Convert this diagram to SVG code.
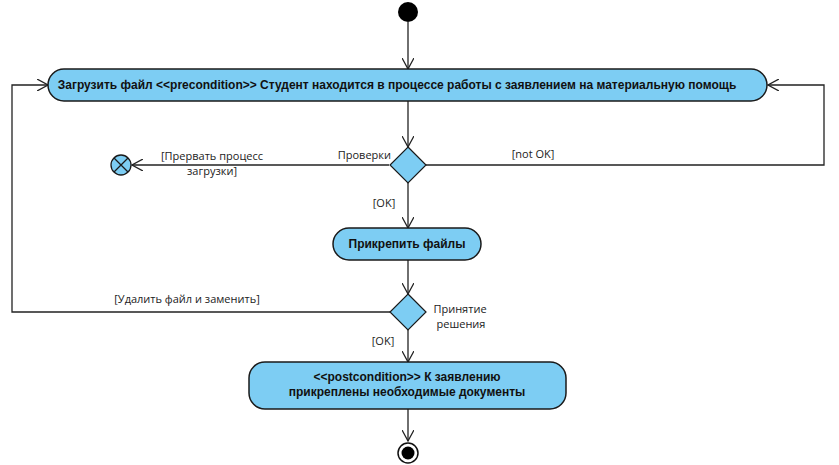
<svg xmlns="http://www.w3.org/2000/svg" width="839" height="465" viewBox="0 0 839 465">
  <style>
    .act { fill: #7dcdf3; stroke: #1a1a1a; stroke-width: 1.5; }
    .dec { fill: #7dcdf3; stroke: #1a1a1a; stroke-width: 1.2; }
    .lbl { font-family: "Liberation Sans", Arial, sans-serif; font-size: 12px; font-weight: bold; fill: #111; }
    .grd { font-family: "Open Sans", "Noto Sans", sans-serif; font-size: 11px; fill: #222; }
    .edge { fill: none; stroke: #222; stroke-width: 1.3; }
  </style>
  <defs>
    <marker id="open" viewBox="0 0 12 12" refX="11" refY="6" markerWidth="12" markerHeight="12" markerUnits="userSpaceOnUse" orient="auto">
      <path d="M0,0 L11,6 L0,12" fill="none" stroke="#222" stroke-width="1.3"/>
    </marker>
  </defs>
  <rect width="839" height="465" fill="#ffffff"/>

  <!-- connectors -->
  <g id="connectors">
    <path class="edge" d="M408,22 V69" marker-end="url(#open)"/>
    <path class="edge" d="M408,101 V147" marker-end="url(#open)"/>
    <path class="edge" d="M389,165 H132" marker-end="url(#open)"/>
    <path class="edge" d="M426,165 H824 V85 H768" marker-end="url(#open)"/>
    <path class="edge" d="M408,183 V228" marker-end="url(#open)"/>
    <path class="edge" d="M408,260 V294" marker-end="url(#open)"/>
    <path class="edge" d="M390,312 H12 V85 H48" marker-end="url(#open)"/>
    <path class="edge" d="M408,330 V362" marker-end="url(#open)"/>
    <path class="edge" d="M408,409 V441" marker-end="url(#open)"/>
    <text class="grd" x="212" y="160" text-anchor="middle">[Прервать процесс</text>
    <text class="grd" x="212" y="175" text-anchor="middle">загрузки]</text>
    <text class="grd" x="533" y="158" text-anchor="middle">[not OK]</text>
    <text class="grd" x="384" y="207" text-anchor="middle">[OK]</text>
    <text class="grd" x="187" y="303" text-anchor="middle">[Удалить файл и заменить]</text>
    <text class="grd" x="383" y="345" text-anchor="middle">[OK]</text>
  </g>

  <g id="start">
    <circle cx="408" cy="12" r="10" fill="#000"/>
  </g>

  <g id="upload">
    <rect class="act" x="48" y="69" width="719" height="32" rx="16"/>
    <text class="lbl" x="397" y="89" text-anchor="middle">Загрузить файл &lt;&lt;precondition&gt;&gt; Студент находится в процессе работы с заявлением на материальную помощь</text>
  </g>

  <g id="check">
    <polygon class="dec" points="408,147 426,165 408,183 390,165"/>
    <text class="grd" x="391" y="159" text-anchor="end">Проверки</text>
  </g>

  <g id="abort">
    <circle cx="121" cy="165" r="10" fill="#7dcdf3" stroke="#1a1a1a" stroke-width="1.3"/>
    <path d="M114,158 L128,172 M128,158 L114,172" stroke="#1a1a1a" stroke-width="1.3"/>
  </g>

  <g id="attach">
    <rect class="act" x="333" y="228" width="148" height="32" rx="16"/>
    <text class="lbl" x="407" y="248" text-anchor="middle">Прикрепить файлы</text>
  </g>

  <g id="decide">
    <polygon class="dec" points="408,294 426,312 408,330 390,312"/>
    <text class="grd" x="460" y="313" text-anchor="middle">Принятие</text>
    <text class="grd" x="461" y="328" text-anchor="middle">решения</text>
  </g>

  <g id="result">
    <rect class="act" x="249" y="362" width="317" height="47" rx="16"/>
    <text class="lbl" x="407" y="381" text-anchor="middle">&lt;&lt;postcondition&gt;&gt; К заявлению</text>
    <text class="lbl" x="407" y="396" text-anchor="middle">прикреплены необходимые документы</text>
  </g>

  <g id="end">
    <circle cx="408" cy="453" r="10" fill="#fff" stroke="#111" stroke-width="1.5"/>
    <circle cx="408" cy="453" r="6.5" fill="#000"/>
  </g>
</svg>
